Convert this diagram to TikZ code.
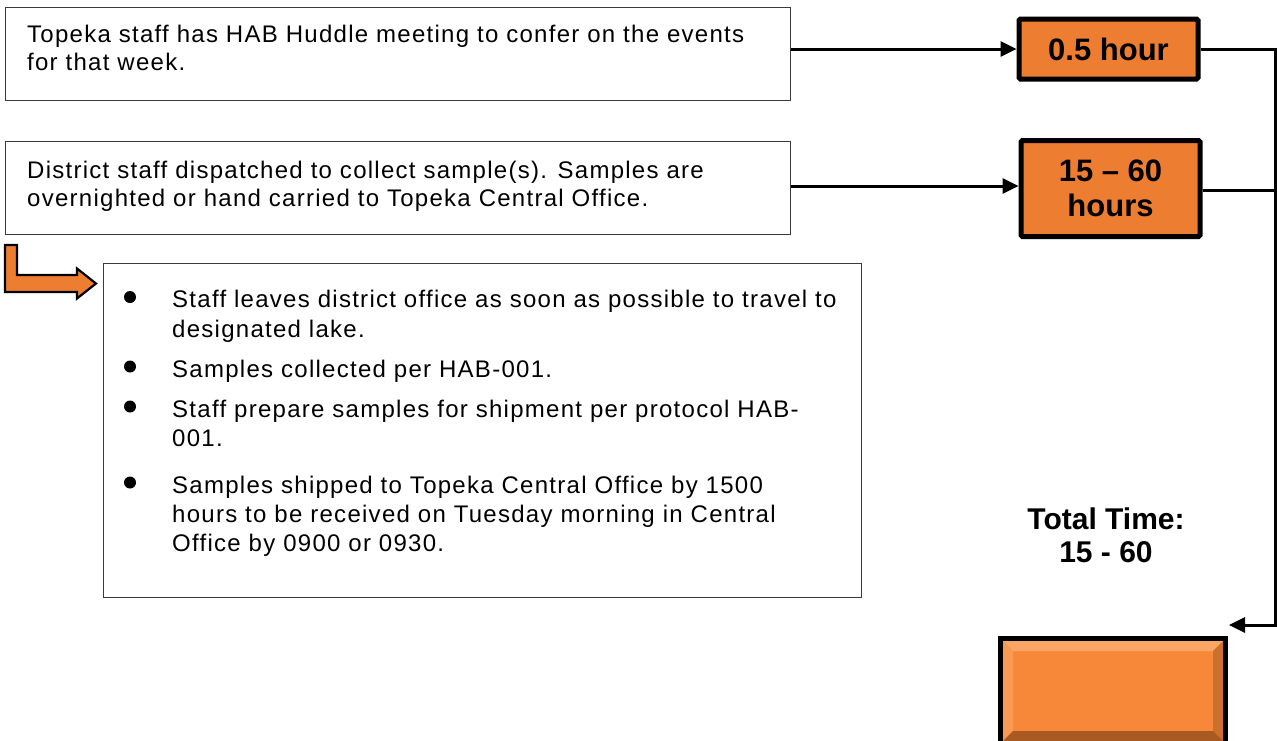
\documentclass[tikz,border=0pt]{standalone}
\usepackage{fontspec}
\setmainfont{Liberation Sans}[LetterSpace=5.3]
\newfontfamily\headf{Liberation Sans}
\usetikzlibrary{arrows.meta}
\definecolor{org}{HTML}{ED7D31}
\definecolor{orgB}{HTML}{F7883A}
\definecolor{orgL}{HTML}{FAA664}
\definecolor{orgD}{HTML}{A85A22}
\definecolor{bord}{HTML}{3A3A3A}
\begin{document}
\begin{tikzpicture}[x=1pt,y=-1pt,
  txt/.style={anchor=base west, inner sep=0pt, font=\fontsize{24}{28}\selectfont},
  wbox/.style={draw=bord, line width=1.4pt, fill=white, anchor=north west, inner sep=0pt},
  obox/.style={draw=black, line width=5pt, fill=org, rounded corners=1.5pt, align=center, inner sep=0pt,
    font=\headf\bfseries\fontsize{31}{35}\selectfont},
  conn/.style={line width=3pt, line join=miter, -{Triangle[length=16pt,width=15pt]}},
  plain/.style={line width=3pt},
  dot/.style={circle, fill=black, inner sep=0pt, minimum size=12pt},
  bigtxt/.style={font=\headf\bfseries\fontsize{30}{33}\selectfont, align=center}]
\useasboundingbox (0,0) rectangle (1277,740);
\begin{scope}
\clip (0,0) rectangle (1277,740);

% white boxes
\node[wbox, minimum width=785pt, minimum height=93pt] (b1) at (5,7) {};
\node[wbox, minimum width=785pt, minimum height=93pt] (b2) at (5,141) {};
\node[wbox, minimum width=758pt, minimum height=334pt] (bb) at (103,263) {};

\node[txt] (t1a) at (27,42.5) {Topeka staff has HAB Huddle meeting to confer on the events};
\node[txt] (t1b) at (27,70) {for that week.};
\node[txt] (t2a) at (27,178) {District staff dispatched to collect sample(s). Samples are};
\node[txt] (t2b) at (27,206) {overnighted or hand carried to Topeka Central Office.};

% bullets
\node[dot] (d1) at (130,297) {};
\node[dot] (d2) at (130,366.5) {};
\node[dot] (d3) at (130,406.5) {};
\node[dot] (d4) at (130,482.5) {};
\node[txt] (l1) at (172,307.7) {Staff leaves district office as soon as possible to travel to};
\node[txt] (l2) at (172,337.5) {designated lake.};
\node[txt] (l3) at (172,377) {Samples collected per HAB-001.};
\node[txt] (l4) at (172,417) {Staff prepare samples for shipment per protocol HAB-};
\node[txt] (l5) at (172,446.5) {001.};
\node[txt] (l6) at (172,493) {Samples shipped to Topeka Central Office by 1500};
\node[txt] (l7) at (172,522) {hours to be received on Tuesday morning in Central};
\node[txt] (l8) at (172,551) {Office by 0900 or 0930.};

% orange boxes
\node[obox, minimum width=179pt, minimum height=60pt] (o1) at (1108.5,49) {0.5 hour};
\node[obox, minimum width=179pt, minimum height=96pt] (o2) at (1110.5,188.5) {15 – 60\\hours};

\node[bigtxt] (tot) at (1106,535) {Total Time:\\15 - 60};

% connectors
\draw[conn] (b1.east |- o1.west) -- (o1.west);
\draw[conn] (b2.east |- 0,186) -- (o2.west |- 0,186);
\coordinate (rt) at (1275,625);
\coordinate (tip) at (1229,625);
\draw[conn] (o1.east) -| (rt) -- (tip);
\draw[plain] (o2.east |- 0,190) -- (rt |- 0,190);

% bent orange arrow
\draw[fill=org, line width=2.2pt, line join=miter]
  (5,245) -- (17,245) -- (17,275) -- (77,275) -- (77,268.5) -- (96,283.5)
  -- (77,298.5) -- (77,292) -- (5,292) -- cycle;

% bottom bevelled box
\node[fill=black, inner sep=0pt, anchor=north west, minimum width=230pt, minimum height=114pt] (bot) at (998,636) {};
\fill[orgB] (1003,641) rectangle (1223,741);
\fill[orgL] (1003,641) -- (1223,641) -- (1213,651) -- (1013,651) -- cycle;
\fill[orgL!60!orgB] (1003,641) -- (1013,651) -- (1013,731) -- (1003,741) -- cycle;
\fill[orgD!55!orgB] (1223,641) -- (1213,651) -- (1213,731) -- (1223,741) -- cycle;
\fill[orgD] (1003,741) -- (1013,731) -- (1213,731) -- (1223,741) -- cycle;
\end{scope}
\end{tikzpicture}
\end{document}
